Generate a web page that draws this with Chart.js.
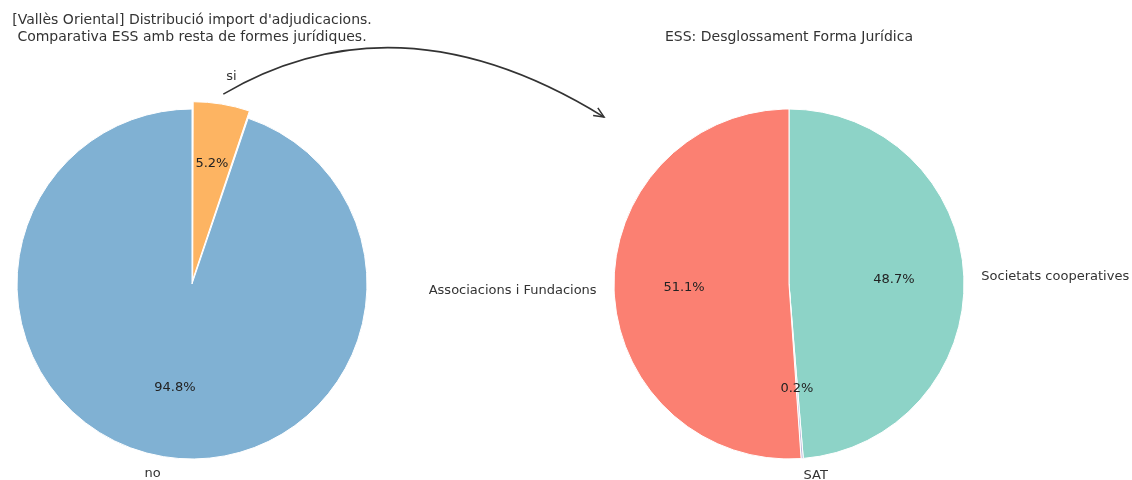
<!DOCTYPE html>
<html>
<head>
<meta charset="utf-8">
<script src="https://cdn.jsdelivr.net/npm/chart.js@4.4.0/dist/chart.umd.min.js"></script>
<style>
  body { margin: 0; background: #fff; }
  #wrap { position: relative; width: 1132px; height: 480px; }
  #wrap canvas { position: absolute; left: 0; top: 0; }
</style>
</head>
<body>
<div id="wrap">
  <canvas id="leftPie" width="1132" height="480"></canvas>
  <canvas id="rightPie" width="1132" height="480"></canvas>
</div>
<script>
// left pie: ESS si / no (percent of adjudication amount)
const essLabels = ['si', 'no'];
const essValues = [5.2, 94.8];
const essColors = ['#fdb462', '#80b1d3'];

// right pie: breakdown of ESS by legal form (clockwise from the top)
const formaLabels = ['Societats cooperatives', 'SAT', 'Associacions i Fundacions'];
const formaValues = [48.7, 0.2, 51.1];
const formaColors = ['#8dd3c7', '#bebada', '#fb8072'];

const leftTitle = ["[Vallès Oriental] Distribució import d'adjudicacions.", 'Comparativa ESS amb resta de formes jurídiques.'];
const rightTitle = 'ESS: Desglossament Forma Jurídica';

const FONT = 'DejaVu Sans';
const RADIUS = 175;
Chart.defaults.font.family = FONT;

// matplotlib style labels: pct at 0.6r, name at 1.1r
const pieLabels = {
    id: 'pieLabels',
    afterDatasetsDraw(chart) {
        const ctx = chart.ctx;
        const meta = chart.getDatasetMeta(0);
        const data = chart.data.datasets[0].data;
        const total = data.reduce((a, b) => a + b, 0);
        ctx.save();
        ctx.font = '13px "' + FONT + '"';
        ctx.textBaseline = 'middle';
        meta.data.forEach((arc, i) => {
            const p = arc.getProps(['x', 'y', 'startAngle', 'endAngle', 'outerRadius']);
            const a = (p.startAngle + p.endAngle) / 2;
            const off = arc.options.offset || 0;
            const cx = p.x + Math.cos(a) * off;
            const cy = p.y + Math.sin(a) * off;
            const r = p.outerRadius;
            // percent
            ctx.fillStyle = '#222';
            ctx.textAlign = 'center';
            ctx.fillText((data[i] / total * 100).toFixed(1) + '%', cx + Math.cos(a) * r * 0.6, cy + Math.sin(a) * r * 0.6);
            // category name
            ctx.fillStyle = '#333';
            ctx.textAlign = Math.cos(a) > 0 ? 'left' : 'right';
            ctx.fillText(chart.data.labels[i], cx + Math.cos(a) * r * 1.1, cy + Math.sin(a) * r * 1.1);
        });
        ctx.restore();
    }
};

function pieOptions(titleText, titleTop, pad) {
    return {
        responsive: false,
        animation: false,
        radius: RADIUS,
        layout: { padding: pad },
        events: [],
        plugins: {
            legend: { display: false },
            tooltip: { enabled: false },
            title: {
                display: true,
                text: titleText,
                color: '#333',
                font: { size: 14, weight: 'normal', lineHeight: 17 / 14 },
                padding: { top: titleTop, bottom: 42.5 }
            }
        }
    };
}

const leftChart = new Chart(document.getElementById('leftPie'), {
    type: 'pie',
    data: {
        labels: essLabels,
        datasets: [{
            data: essValues,
            backgroundColor: essColors,
            borderColor: '#fff',
            borderWidth: 1,
            offset: [17.5, 0]
        }]
    },
    options: pieOptions(leftTitle, 11.5, { left: 0, right: 748 }),
    plugins: [pieLabels]
});

// curved arrow from the "si" wedge to the right pie
const arrowPlugin = {
    id: 'arrowPlugin',
    afterDraw(chart) {
        const ctx = chart.ctx;
        const siArc = leftChart.getDatasetMeta(0).data[0];
        const a = (siArc.startAngle + siArc.endAngle) / 2;
        const d = siArc.options.offset + siArc.outerRadius;
        const sx = siArc.x + Math.cos(a) * d;
        const sy = siArc.y + Math.sin(a) * d;
        const right = chart.getDatasetMeta(0).data[0];
        const R = right.outerRadius;
        const ex = right.x - 1.057 * R;
        const ey = right.y - 0.954 * R;
        const dx = ex - sx, dy = ey - sy;
        const cpx = (sx + ex) / 2 + 0.298 * dy - 0.054 * dx;
        const cpy = (sy + ey) / 2 - 0.298 * dx - 0.054 * dy;
        ctx.save();
        ctx.strokeStyle = '#333';
        ctx.lineWidth = 1.5;
        ctx.beginPath();
        ctx.moveTo(sx, sy);
        ctx.quadraticCurveTo(cpx, cpy, ex, ey);
        ctx.stroke();
        // open arrow head
        const ang = Math.atan2(ey - cpy, ex - cpx);
        const hl = 11, hw = 0.42;
        ctx.beginPath();
        ctx.moveTo(ex - hl * Math.cos(ang - hw), ey - hl * Math.sin(ang - hw));
        ctx.lineTo(ex, ey);
        ctx.lineTo(ex - hl * Math.cos(ang + hw), ey - hl * Math.sin(ang + hw));
        ctx.stroke();
        ctx.restore();
    }
};

new Chart(document.getElementById('rightPie'), {
    type: 'pie',
    data: {
        labels: formaLabels,
        datasets: [{
            data: formaValues,
            backgroundColor: formaColors,
            borderColor: '#fff',
            borderWidth: 1
        }]
    },
    options: pieOptions(rightTitle, 28.5, { left: 446, right: 0 }),
    plugins: [pieLabels, arrowPlugin]
});
</script>
</body>
</html>
